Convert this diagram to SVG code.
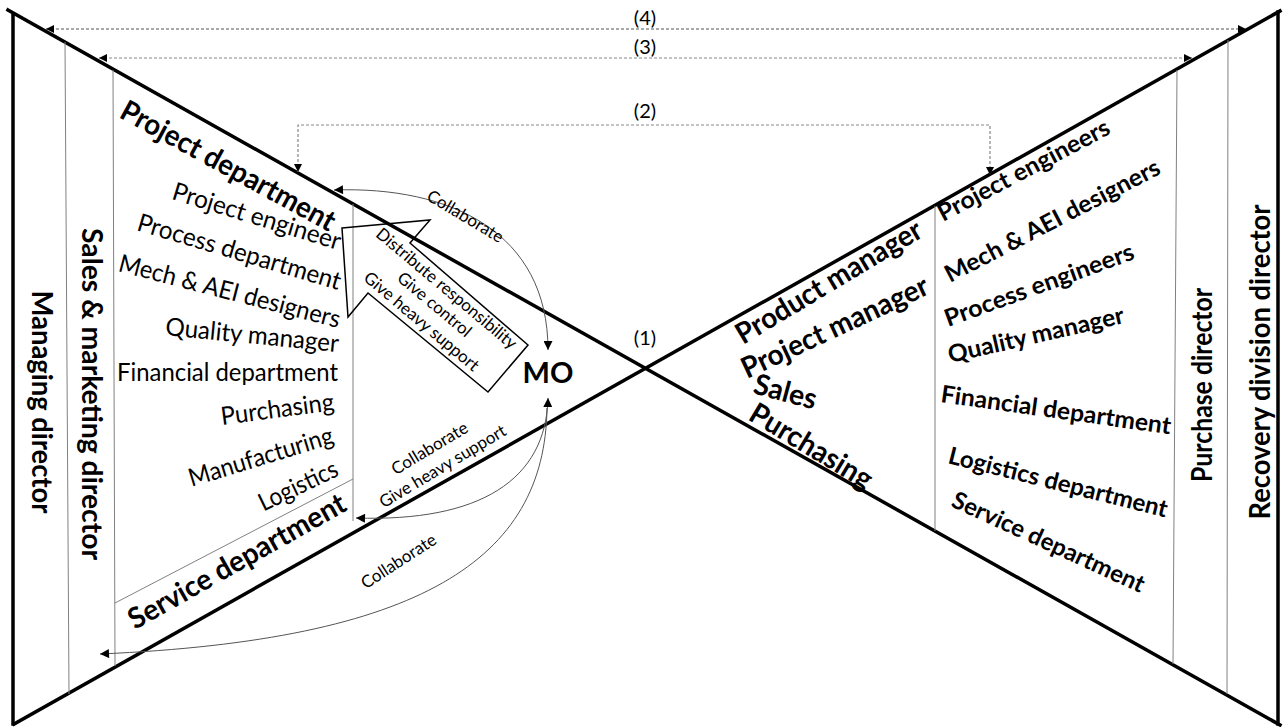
<svg xmlns="http://www.w3.org/2000/svg" width="1286" height="727" viewBox="0 0 1286 727">
  <style>
    .frame { stroke: #000; stroke-width: 3.5; fill: none; stroke-linecap: square; }
    .div { stroke: #808080; stroke-width: 1; fill: none; }
    .dash { stroke: #888; stroke-width: 1.2; stroke-dasharray: 3 2; fill: none; }
    .dash.dark { stroke: #555; }
    .curve { stroke: #555; stroke-width: 1; fill: none; }
    .block { stroke: #000; stroke-width: 1.5; fill: none; stroke-linejoin: miter; }
    text { font-family: Lato, "Open Sans", "Liberation Sans", sans-serif; fill: #000; }
    .big { font-size: 29px; font-weight: bold; }
    .item { font-size: 25px; }
    .ritem { font-size: 24px; font-weight: bold; }
    .lbl { font-size: 17px; text-anchor: middle; }
    .num { font-size: 20px; text-anchor: middle; }
  </style>
  <defs>
    <marker id="ah" viewBox="0 0 10 10" refX="10" refY="5" markerWidth="10" markerHeight="9" markerUnits="userSpaceOnUse" orient="auto-start-reverse">
      <path d="M0 0 L10 5 L0 10 z" fill="#000"/>
    </marker>
    <marker id="ahs" viewBox="0 0 10 10" refX="10" refY="5" markerWidth="9" markerHeight="8" markerUnits="userSpaceOnUse" orient="auto-start-reverse">
      <path d="M0 0 L10 5 L0 10 z" fill="#000"/>
    </marker>
  </defs>

  <!-- hourglass frame -->
  <g id="frame">
    <path class="frame" d="M8 10 L1280 725"/>
    <path class="frame" d="M14 724 L1280 11"/>
    <path class="frame" d="M13 14 V724"/>
    <path class="frame" d="M1278 12 V724"/>
    <!-- column dividers -->
    <path class="div" d="M65 42 L69 694"/>
    <path class="div" d="M113 70 L115 666"/>
    <path class="div" d="M353 204 L353 521"/>
    <path class="div" d="M115 603 L353 479"/>
    <path class="div" d="M935 206 L935 531"/>
    <path class="div" d="M1177 70 L1173 664"/>
    <path class="div" d="M1228 40 L1227 694"/>
  </g>

  <!-- connectors -->
  <g id="connectors">
    <path class="dash dark" d="M46 29 H1246" marker-start="url(#ahs)" marker-end="url(#ahs)"/>
    <path class="dash" d="M99 58 H1192" marker-start="url(#ahs)" marker-end="url(#ahs)"/>
    <path class="dash" d="M298 172 V125 H990 V175" marker-start="url(#ahs)" marker-end="url(#ahs)"/>
    <path class="curve" d="M334 190 C450 186, 548 232, 548 350" marker-start="url(#ah)" marker-end="url(#ah)"/>
    <path class="curve" d="M548 398 C546 480, 480 522, 356 518" marker-start="url(#ah)" marker-end="url(#ah)"/>
    <path class="curve" d="M547 408 C545 560, 420 640, 100 654" marker-end="url(#ah)"/>
    <polygon class="block" points="342,228 430,220 410,243 528,345 488,392 368,293 348,317"/>
  </g>

  <!-- connector labels -->
  <g id="labels">
    <text class="num" x="645" y="25">(4)</text>
    <text class="num" x="645" y="54">(3)</text>
    <text class="num" x="645" y="118">(2)</text>
    <text class="num" x="645" y="345">(1)</text>
    <text class="lbl" transform="translate(465 217) rotate(31)" y="5">Collaborate</text>
    <text class="lbl" transform="translate(446 289) rotate(40)" y="5">Distribute responsibility</text>
    <text class="lbl" transform="translate(434 305) rotate(40)" y="5">Give control</text>
    <text class="lbl" transform="translate(421 322) rotate(40)" y="5">Give heavy support</text>
    <text class="lbl" transform="translate(430 449) rotate(-31)" y="5">Collaborate</text>
    <text class="lbl" transform="translate(443 467) rotate(-31)" y="5">Give heavy support</text>
    <text class="lbl" transform="translate(399 562) rotate(-33)" y="5">Collaborate</text>
  </g>

  <g id="mo">
    <text class="big" x="548" y="383" text-anchor="middle">MO</text>
  </g>

  <!-- left wing -->
  <g id="managing-director">
    <text class="big" text-anchor="middle" transform="translate(32 402) rotate(90)" textLength="223" lengthAdjust="spacingAndGlyphs">Managing director</text>
  </g>
  <g id="sales-marketing-director">
    <text class="big" text-anchor="middle" transform="translate(82 394) rotate(90)" textLength="332" lengthAdjust="spacingAndGlyphs">Sales &amp; marketing director</text>
  </g>
  <g id="project-department">
    <text class="big" transform="translate(118 117) rotate(28.6)" textLength="240" lengthAdjust="spacingAndGlyphs">Project department</text>
    <text class="item" text-anchor="end" transform="translate(338 250) rotate(17)" textLength="175" lengthAdjust="spacingAndGlyphs">Project engineer</text>
    <text class="item" text-anchor="end" transform="translate(338 290) rotate(16.5)" textLength="211" lengthAdjust="spacingAndGlyphs">Process department</text>
    <text class="item" text-anchor="end" transform="translate(338 328) rotate(14.5)" textLength="228" lengthAdjust="spacingAndGlyphs">Mech &amp; AEI designers</text>
    <text class="item" text-anchor="end" transform="translate(338 352) rotate(5.6)" textLength="174" lengthAdjust="spacingAndGlyphs">Quality manager</text>
    <text class="item" text-anchor="end" transform="translate(338 381)" textLength="221" lengthAdjust="spacingAndGlyphs">Financial department</text>
    <text class="item" text-anchor="end" transform="translate(335 410) rotate(-7.6)" textLength="114" lengthAdjust="spacingAndGlyphs">Purchasing</text>
    <text class="item" text-anchor="end" transform="translate(335 443) rotate(-17)" textLength="150" lengthAdjust="spacingAndGlyphs">Manufacturing</text>
    <text class="item" text-anchor="end" transform="translate(340 475) rotate(-25.7)" textLength="85" lengthAdjust="spacingAndGlyphs">Logistics</text>
  </g>
  <g id="service-department">
    <text class="big" transform="translate(135 630) rotate(-29.4)" textLength="245" lengthAdjust="spacingAndGlyphs">Service department</text>
  </g>

  <!-- right wing -->
  <g id="front-roles">
    <text class="big" transform="translate(743 345) rotate(-31)" textLength="212" lengthAdjust="spacingAndGlyphs">Product manager</text>
    <text class="big" transform="translate(747 379) rotate(-25)" textLength="203" lengthAdjust="spacingAndGlyphs">Project manager</text>
    <text class="big" transform="translate(752 393) rotate(15)" textLength="64" lengthAdjust="spacingAndGlyphs">Sales</text>
    <text class="big" transform="translate(747 419) rotate(31)" textLength="138" lengthAdjust="spacingAndGlyphs">Purchasing</text>
  </g>
  <g id="recovery-departments">
    <text class="ritem" transform="translate(943 222) rotate(-27.8)" textLength="191" lengthAdjust="spacingAndGlyphs">Project engineers</text>
    <text class="ritem" transform="translate(950 283) rotate(-27.4)" textLength="239" lengthAdjust="spacingAndGlyphs">Mech &amp; AEI designers</text>
    <text class="ritem" transform="translate(948 327) rotate(-20)" textLength="200" lengthAdjust="spacingAndGlyphs">Process engineers</text>
    <text class="ritem" transform="translate(950 363) rotate(-12.9)" textLength="180" lengthAdjust="spacingAndGlyphs">Quality manager</text>
    <text class="ritem" transform="translate(940 402) rotate(8)" textLength="232" lengthAdjust="spacingAndGlyphs">Financial department</text>
    <text class="ritem" transform="translate(947 463) rotate(14)" textLength="225" lengthAdjust="spacingAndGlyphs">Logistics department</text>
    <text class="ritem" transform="translate(950 506) rotate(24.6)" textLength="209" lengthAdjust="spacingAndGlyphs">Service department</text>
  </g>
  <g id="purchase-director">
    <text class="big" text-anchor="middle" transform="translate(1212 385) rotate(-90)" textLength="194" lengthAdjust="spacingAndGlyphs">Purchase director</text>
  </g>
  <g id="recovery-division-director">
    <text class="big" text-anchor="middle" transform="translate(1270 362) rotate(-90)" textLength="315" lengthAdjust="spacingAndGlyphs">Recovery division director</text>
  </g>
</svg>
